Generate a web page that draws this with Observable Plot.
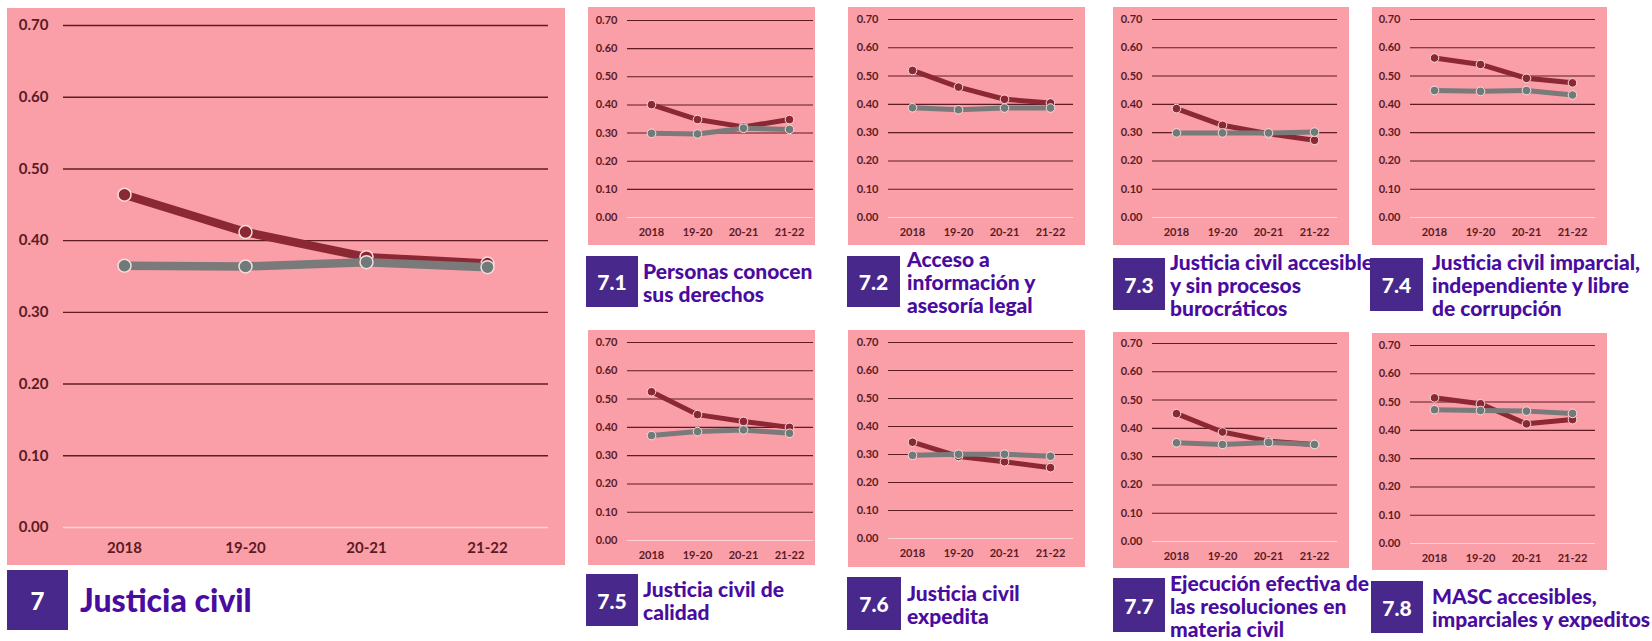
<!DOCTYPE html>
<html><head><meta charset="utf-8">
<script src="https://cdn.jsdelivr.net/npm/d3@7"></script>
<script src="https://cdn.jsdelivr.net/npm/@observablehq/plot@0.6"></script>
<style>
html,body{margin:0;padding:0;background:#fff;}
#root{position:relative;width:1652px;height:641px;overflow:hidden;font-family:Lato,sans-serif;}
.chart{position:absolute;}
.box{position:absolute;background:#48288b;color:#fff;font-weight:900;display:flex;align-items:center;justify-content:center;}
.title{position:absolute;color:#4a0c9f;font-weight:900;display:flex;flex-direction:column;justify-content:center;white-space:nowrap;}
</style></head><body><div id="root"></div>
<script>
// ---- data ----
const periods = ["2018", "19-20", "20-21", "21-22"];
const yTicks = [0, 0.1, 0.2, 0.3, 0.4, 0.5, 0.6, 0.7];
const codes = ["7", "7.1", "7.2", "7.3", "7.4", "7.5", "7.6", "7.7", "7.8"];
const titles = [
  ["Justicia civil"],
  ["Personas conocen", "sus derechos"],
  ["Acceso a", "información y", "asesoría legal"],
  ["Justicia civil accesible", "y sin procesos", "burocráticos"],
  ["Justicia civil imparcial,", "independiente y libre", "de corrupción"],
  ["Justicia civil de", "calidad"],
  ["Justicia civil", "expedita"],
  ["Ejecución efectiva de", "las resoluciones en", "materia civil"],
  ["MASC accesibles,", "imparciales y expeditos"]
];
const red_7  = [0.464, 0.412, 0.377, 0.368];
const grey_7 = [0.365, 0.364, 0.370, 0.363];
const red_71  = [0.401, 0.348, 0.322, 0.348];
const grey_71 = [0.299, 0.297, 0.317, 0.313];
const red_72  = [0.520, 0.461, 0.418, 0.405];
const grey_72 = [0.388, 0.381, 0.387, 0.387];
const red_73  = [0.385, 0.326, 0.296, 0.273];
const grey_73 = [0.299, 0.299, 0.299, 0.302];
const red_74  = [0.564, 0.541, 0.492, 0.476];
const grey_74 = [0.449, 0.446, 0.449, 0.433];
const red_75  = [0.526, 0.445, 0.421, 0.400];
const grey_75 = [0.371, 0.385, 0.391, 0.379];
const red_76  = [0.344, 0.293, 0.274, 0.253];
const grey_76 = [0.297, 0.301, 0.301, 0.294];
const red_77  = [0.452, 0.387, 0.355, 0.343];
const grey_77 = [0.349, 0.343, 0.350, 0.343];
const red_78  = [0.515, 0.494, 0.423, 0.438];
const grey_78 = [0.473, 0.470, 0.468, 0.460];

const redSeries = [red_7, red_71, red_72, red_73, red_74, red_75, red_76, red_77, red_78];
const greySeries = [grey_7, grey_71, grey_72, grey_73, grey_74, grey_75, grey_76, grey_77, grey_78];

// ---- layout (positions & styles) ----
const layout = [
  {x:7,    y:8,   w:558, h:557, mt:17, mb:38, ml:56, mr:17, bx:7,    by:570, bw:61, bh:60, tx:80,  big:true},
  {x:588,  y:7,   w:227, h:238, mt:13, mb:28, ml:39, mr:2,  bx:586,  by:256, bw:52, bh:51, tx:643},
  {x:848,  y:7,   w:237, h:238, mt:12, mb:28, ml:40, mr:12, bx:847,  by:256, bw:53, bh:51, tx:907},
  {x:1113, y:7,   w:236, h:238, mt:12, mb:28, ml:39, mr:12, bx:1113, by:258, bw:52, bh:52, tx:1170},
  {x:1372, y:7,   w:235, h:238, mt:12, mb:28, ml:38, mr:12, bx:1370, by:258, bw:53, bh:53, tx:1432},
  {x:588,  y:330, w:227, h:235, mt:12, mb:25, ml:39, mr:2,  bx:586,  by:574, bw:52, bh:52, tx:643},
  {x:848,  y:330, w:237, h:237, mt:12, mb:29, ml:40, mr:12, bx:847,  by:577, bw:54, bh:53, tx:907},
  {x:1113, y:332, w:236, h:236, mt:11, mb:27, ml:39, mr:12, bx:1113, by:578, bw:52, bh:54, tx:1170},
  {x:1372, y:333, w:235, h:237, mt:12, mb:27, ml:38, mr:12, bx:1371, by:581, bw:52, bh:52, tx:1432}
];
const PINK = "#fa9fa7";
const RED = "#8b2833";
const GREY = "#7a7a7a";
const GREYDOT = "#6f7a79";
const GRID = "#5e1b24";
const ZERO = "#fbd3d6";
const AXIS = "#5c1a24";

const root = document.getElementById("root");

layout.forEach((L, i) => {
  const big = !!L.big;
  const red = periods.map((p, j) => ({period: p, value: redSeries[i][j]}));
  const grey = periods.map((p, j) => ({period: p, value: greySeries[i][j]}));
  const chart = Plot.plot({
    width: L.w, height: L.h,
    marginTop: L.mt, marginBottom: L.mb, marginLeft: L.ml, marginRight: L.mr,
    style: {background: PINK, color: AXIS, fontFamily: "Lato", fontSize: big ? "15px" : "11px", fontWeight: "bold", overflow: "visible"},
    x: {type: "point", domain: periods, padding: 0.5, tickSize: 0, tickPadding: big ? 15 : 11, label: null},
    y: {domain: [0, 0.7], ticks: yTicks, tickFormat: d3.format(".2f"), tickSize: 0, tickPadding: big ? 15 : 10, label: null},
    marks: [
      Plot.ruleY(yTicks.filter(d => d > 0), {stroke: GRID, strokeWidth: big ? 1.4 : 1.1}),
      Plot.ruleY([0], {stroke: ZERO, strokeWidth: big ? 1.4 : 1.1}),
      Plot.line(red, {x: "period", y: "value", stroke: RED, strokeWidth: big ? 8.5 : 5}),
      Plot.dot(red, {x: "period", y: "value", r: big ? 6.5 : 4.3, fill: RED, stroke: "#f6dede", strokeWidth: big ? 1.5 : 1}),
      Plot.line(grey, {x: "period", y: "value", stroke: GREY, strokeWidth: big ? 8.5 : 5}),
      Plot.dot(grey, {x: "period", y: "value", r: big ? 6.5 : 4.3, fill: GREYDOT, stroke: "#f6dede", strokeWidth: big ? 1.5 : 1})
    ]
  });
  chart.classList.add("chart");
  chart.style.left = L.x + "px";
  chart.style.top = L.y + "px";
  chart.style.position = "absolute";
  root.appendChild(chart);

  const box = document.createElement("div");
  box.className = "box";
  box.style.left = L.bx + "px"; box.style.top = L.by + "px";
  box.style.width = L.bw + "px"; box.style.height = L.bh + "px";
  box.style.fontSize = big ? "24px" : "21px";
  box.textContent = codes[i];
  root.appendChild(box);

  const t = document.createElement("div");
  t.className = "title";
  t.style.left = L.tx + "px"; t.style.top = L.by + "px";
  t.style.height = L.bh + "px";
  t.style.fontSize = big ? "32px" : "21px";
  t.style.lineHeight = big ? "36px" : "23px";
  titles[i].forEach(line => {
    const s = document.createElement("div");
    s.textContent = line;
    t.appendChild(s);
  });
  root.appendChild(t);
});
</script>
</body></html>
